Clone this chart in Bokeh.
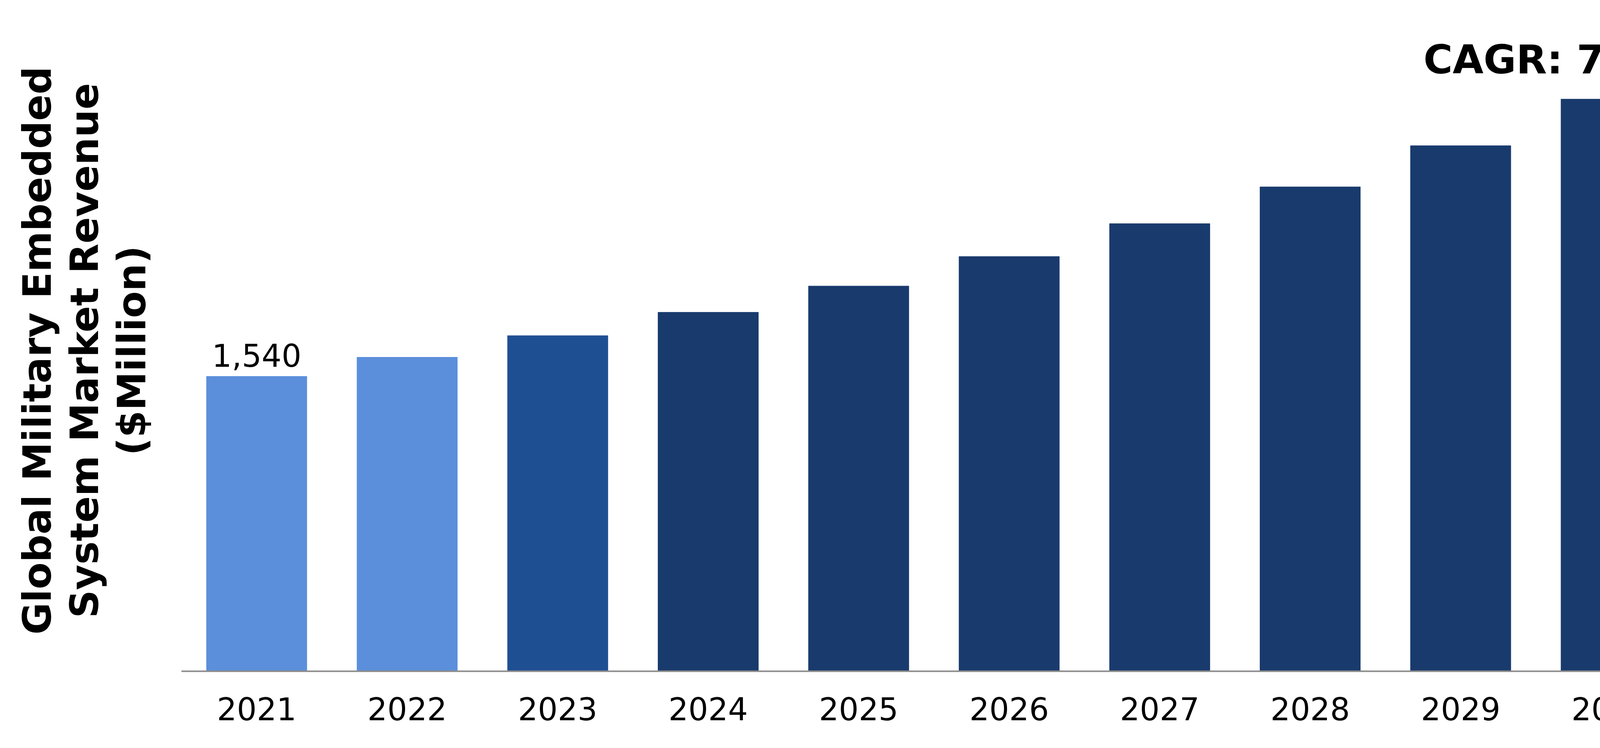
from bokeh.plotting import figure
from bokeh.models import Range1d, ColumnDataSource, FixedTicker, Div
from bokeh.layouts import row
from bokeh.core.properties import value
from bokeh.embed import file_html
from bokeh.resources import INLINE

years = [2021, 2022, 2023, 2024, 2025, 2026, 2027, 2028, 2029, 2030, 2031]
year_labels = ["2021", "2022", "2023", "2024", "2025", "2026", "2027", "2028", "2029", "2030", "2031"]
revenue = [1540, 1640, 1753, 1875, 2012, 2166, 2338, 2530, 2745, 2988, 3264]
bar_colors = ["#5B8FDB", "#5B8FDB", "#1F4F93"] + ["#193A6D"] * 8
y_title_lines = ["Global Military Embedded", "System Market Revenue", "($Million)"]
cagr_text = "CAGR: 7.9%"

FONT = "DejaVu Sans"
Y_END = 3370
TITLE_W = 454
TOTAL_W = 4766
TOTAL_H = 1899

x_start = years[0] - 0.5
x_end = years[-1] + 0.5

src = ColumnDataSource(dict(years=years, revenue=revenue, colors=bar_colors))

p = figure(
    x_range=Range1d(x_start, x_end),
    y_range=Range1d(0, Y_END),
    width=TOTAL_W - TITLE_W, height=TOTAL_H,
    output_backend="svg", toolbar_location=None,
    y_axis_location=None,
    min_border_left=0, min_border_right=74,
    min_border_top=66, min_border_bottom=181,
)
p.outline_line_color = None
p.background_fill_color = "white"
p.xgrid.grid_line_color = None
p.ygrid.grid_line_color = None

p.vbar(x="years", top="revenue", width=0.667, color="colors", source=src)

# x axis
xa = p.xaxis[0]
xa.ticker = FixedTicker(ticks=years)
xa.major_label_overrides = {y: s for y, s in zip(years, year_labels)}
xa.axis_line_color = "#8C8C8C"
xa.axis_line_width = 4
xa.major_tick_line_color = None
xa.minor_tick_line_color = None
xa.major_label_text_font = FONT
xa.major_label_text_font_size = "80px"
xa.major_label_text_color = "black"
xa.major_label_standoff = 60

# value label on first bar
p.text(x=[years[0]], y=[revenue[0]], text=[f"{revenue[0]:,}"],
       text_align="center", text_baseline="alphabetic", y_offset=-54,
       text_font=value(FONT), text_font_size="80px", text_color="black")

# CAGR annotation
p.text(x=[years[-2]], y=[revenue[-1]], text=[cagr_text],
       text_align="center", text_baseline="alphabetic",
       x_offset=-143, y_offset=34,
       text_font=value(FONT), text_font_style="bold",
       text_font_size="102px", text_color="black")

# y-axis title as rotated HTML text (reads bottom to top)
block_w, line_h = 1600, 121
block_h = line_h * len(y_title_lines)
cx, cy = 211, 892
title_html = (
    f'<div style="position:relative;width:{TITLE_W}px;height:{TOTAL_H}px;">'
    f'<div style="position:absolute;left:{cx - block_w // 2}px;top:{cy - block_h // 2}px;'
    f'width:{block_w}px;height:{block_h}px;transform:rotate(-90deg);'
    f'transform-origin:50% 50%;text-align:center;white-space:nowrap;'
    f"font-family:'{FONT}';font-weight:bold;font-size:100px;line-height:{line_h}px;color:black;\">"
    + "<br>".join(s.replace("$", "&#36;") for s in y_title_lines)
    + "</div></div>"
)
title_div = Div(text=title_html, width=TITLE_W, height=TOTAL_H)

layout = row(title_div, p, spacing=0)

open("out.html", "w").write(file_html(layout, INLINE))
